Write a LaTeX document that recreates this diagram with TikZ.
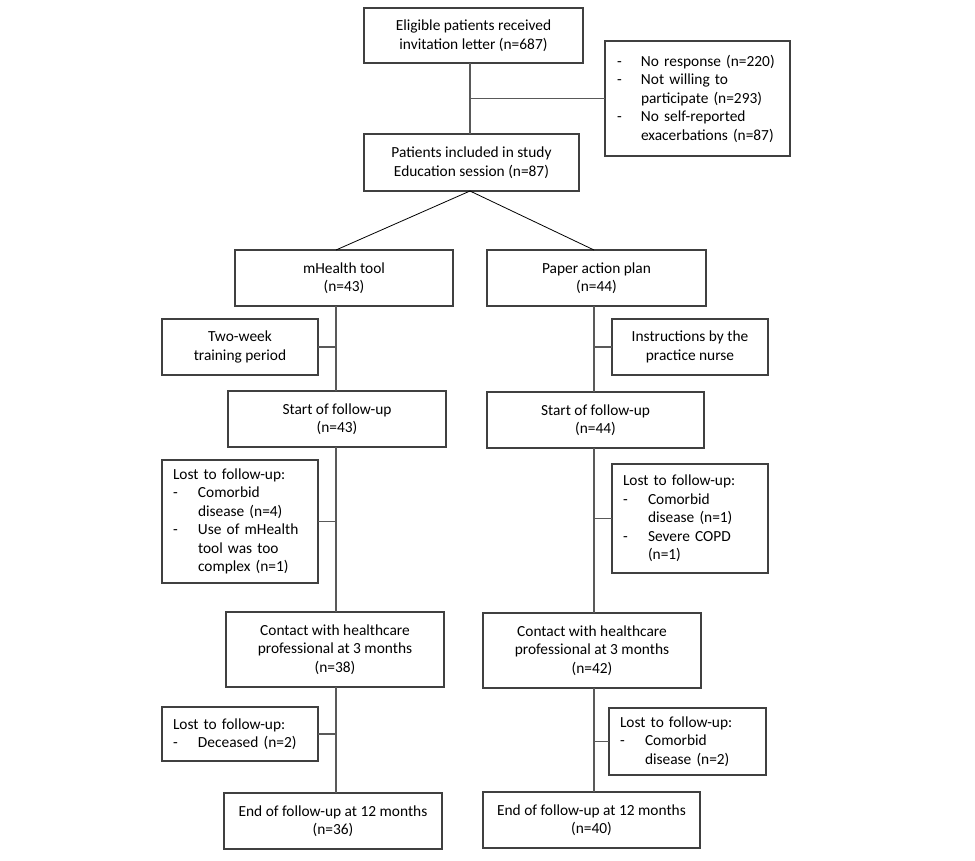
\documentclass[tikz,border=0pt]{standalone}
\usepackage{fontspec}
\setmainfont{Carlito}
\begin{document}
\begin{tikzpicture}[x=1pt,y=-1pt,
  box/.style={draw=black!75, line width=1.1pt, inner sep=0pt, outer sep=0pt, align=center,
    font=\fontsize{15.4}{18.5}\selectfont, text=black},
  lbox/.style={box, align=left, inner xsep=11pt},
  conn/.style={draw=black!65, line width=1.4pt},
  diag/.style={draw=black, line width=0.8pt}]
\useasboundingbox (0,0) rectangle (975,860);
\fill[white] (0,0) rectangle (975,860);
\coordinate (xT) at (470,0);
\coordinate (xL) at (336,0);
\coordinate (xR) at (594,0);

\node[box, minimum width=219pt, minimum height=55pt] (A) at (473.5,35.5)
  {Eligible patients received\\invitation letter (n=687)};
\node[lbox, text width=161pt, inner xsep=12pt, minimum height=115pt] (S) at (697.5,98.5)
  {\makebox[24pt][l]{-}No response (n=220)\\
   \makebox[24pt][l]{-}Not willing to\\
   \hspace*{24pt}participate (n=293)\\
   \makebox[24pt][l]{-}No self-reported\\
   \hspace*{24pt}exacerbations (n=87)};
\node[box, minimum width=215pt, minimum height=57pt] (B) at (471.5,162.5)
  {Patients included in study\\Education session (n=87)};

\node[box, minimum width=218pt, minimum height=56pt] (M) at (344,278)
  {mHealth tool\\(n=43)};
\node[box, minimum width=219pt, minimum height=56pt] (P) at (596.5,278)
  {Paper action plan\\(n=44)};

\node[box, minimum width=156pt, minimum height=56pt] (T) at (240,347)
  {Two-week\\training period};
\node[box, minimum width=156pt, minimum height=56pt] (I) at (690,347)
  {Instructions by the\\practice nurse};

\node[box, minimum width=218pt, minimum height=56pt] (SL) at (337,419)
  {Start of follow-up\\(n=43)};
\node[box, minimum width=217pt, minimum height=56pt] (SR) at (595.5,420)
  {Start of follow-up\\(n=44)};

\node[lbox, text width=134pt, minimum height=123pt] (LL) at (240,521.5)
  {Lost to follow-up:\\
   \makebox[25pt][l]{-}Comorbid\\
   \hspace*{25pt}disease (n=4)\\
   \makebox[25pt][l]{-}Use of mHealth\\
   \hspace*{25pt}tool was too\\
   \hspace*{25pt}complex (n=1)};
\node[lbox, text width=134pt, minimum height=109pt] (LR) at (690,518.5)
  {Lost to follow-up:\\
   \makebox[25pt][l]{-}Comorbid\\
   \hspace*{25pt}disease (n=1)\\
   \makebox[25pt][l]{-}Severe COPD\\
   \hspace*{25pt}(n=1)};

\node[box, minimum width=218pt, minimum height=75pt] (CL) at (335,649.5)
  {Contact with healthcare\\professional at 3 months\\(n=38)};
\node[box, minimum width=218pt, minimum height=75pt] (CR) at (592,650.5)
  {Contact with healthcare\\professional at 3 months\\(n=42)};

\node[lbox, text width=134pt, minimum height=54pt] (DL) at (240,734)
  {Lost to follow-up:\\
   \makebox[25pt][l]{-}Deceased (n=2)};
\node[lbox, text width=135pt, minimum height=67pt] (DR) at (687.5,741.5)
  {Lost to follow-up:\\
   \makebox[25pt][l]{-}Comorbid\\
   \hspace*{25pt}disease (n=2)};

\node[box, minimum width=218pt, minimum height=56pt] (EL) at (333,821)
  {End of follow-up at 12 months\\(n=36)};
\node[box, minimum width=217pt, minimum height=56pt] (ER) at (591.5,820)
  {End of follow-up at 12 months\\(n=40)};

% top trunk
\draw[conn] (A.south -| xT) -- (B.north -| xT);
\draw[conn] (S.west) -- (S.west -| xT);
% split
\draw[diag] (B.south -| xT) -- (M.north -| xL);
\draw[diag] (B.south -| xT) -- (P.north -| xR);
% left arm
\draw[conn] (M.south -| xL) -- (SL.north -| xL);
\draw[conn] (T.east) -- (T.east -| xL);
\draw[conn] (SL.south -| xL) -- (CL.north -| xL);
\draw[conn] (LL.east) -- (LL.east -| xL);
\draw[conn] (CL.south -| xL) -- (EL.north -| xL);
\draw[conn] (DL.east) -- (DL.east -| xL);
% right arm
\draw[conn] (P.south -| xR) -- (SR.north -| xR);
\draw[conn] (I.west) -- (I.west -| xR);
\draw[conn] (SR.south -| xR) -- (CR.north -| xR);
\draw[conn] (LR.west) -- (LR.west -| xR);
\draw[conn] (CR.south -| xR) -- (ER.north -| xR);
\draw[conn] (DR.west) -- (DR.west -| xR);
\end{tikzpicture}
\end{document}
